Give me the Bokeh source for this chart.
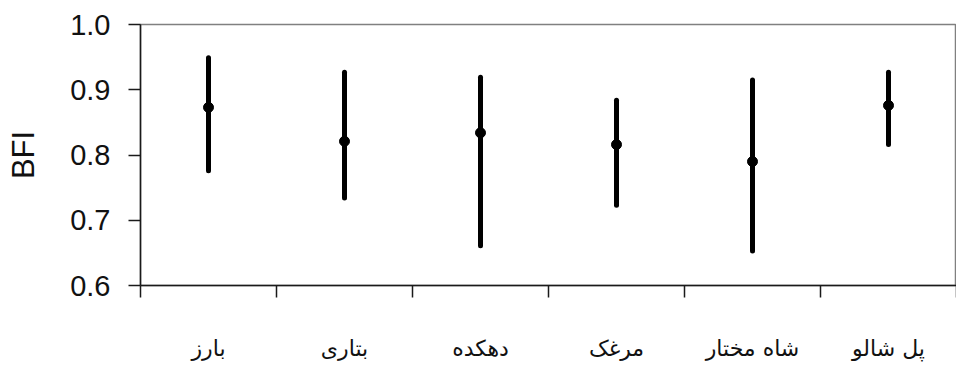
from bokeh.plotting import figure
from bokeh.models import Range1d, FixedTicker, LinearAxis, PrintfTickFormatter
from bokeh.embed import file_html
from bokeh.resources import INLINE

# Data
stations = ["بارز", "بتاری", "دهکده", "مرغک", "شاه مختار", "پل شالو"]
bfi_mean = [0.873, 0.821, 0.834, 0.816, 0.790, 0.876]
bfi_max = [0.949, 0.927, 0.919, 0.884, 0.915, 0.927]
bfi_min = [0.776, 0.734, 0.661, 0.723, 0.653, 0.816]
y_ticks = [0.6, 0.7, 0.8, 0.9, 1.0]
y_label = "BFI"

n = len(stations)
centers = [i + 0.5 for i in range(n)]
bounds = [float(i) for i in range(n + 1)]

p = figure(
    frame_width=816, frame_height=261,
    x_range=Range1d(0, n), y_range=Range1d(y_ticks[0], y_ticks[-1]),
    output_backend="svg", toolbar_location=None, tools="",
    x_axis_type=None, y_axis_type=None,
    min_border_left=140, min_border_top=24, min_border_right=0, min_border_bottom=0,
)
p.background_fill_color = "white"
p.border_fill_color = "white"
p.outline_line_color = "#808080"
p.outline_line_width = 1.5

# y axis
yax = LinearAxis(
    ticker=FixedTicker(ticks=y_ticks),
    formatter=PrintfTickFormatter(format="%.1f"),
    axis_label=y_label,
)
yax.axis_line_color = "#1a1a1a"
yax.axis_line_width = 1.5
yax.major_tick_out = 12
yax.major_tick_in = 0
yax.major_tick_line_color = "#1a1a1a"
yax.major_tick_line_width = 1.5
yax.minor_tick_line_color = None
yax.major_label_text_font = "Liberation Sans"
yax.major_label_text_font_size = "29px"
yax.major_label_text_color = "#111111"
yax.major_label_standoff = 18
yax.axis_label_text_font = "Liberation Sans"
yax.axis_label_text_font_size = "31px"
yax.axis_label_text_font_style = "normal"
yax.axis_label_text_color = "#111111"
yax.axis_label_standoff = 26
p.add_layout(yax, "left")

# x axis: boundary ticks as minor ticks, station names at category centres
xax = LinearAxis(
    ticker=FixedTicker(ticks=centers, minor_ticks=bounds),
    major_label_overrides={c: s for c, s in zip(centers, stations)},
)
xax.axis_line_color = "#1a1a1a"
xax.axis_line_width = 1.5
xax.major_tick_line_color = None
xax.major_tick_out = 0
xax.major_tick_in = 0
xax.minor_tick_line_color = "#1a1a1a"
xax.minor_tick_line_width = 1.5
xax.minor_tick_out = 12
xax.minor_tick_in = 0
xax.major_label_text_font = "DejaVu Sans"
xax.major_label_text_font_size = "22px"
xax.major_label_text_color = "#111111"
xax.major_label_standoff = 38
p.add_layout(xax, "below")

# horizontal grid lines
p.ygrid.ticker = FixedTicker(ticks=y_ticks[1:-1])
p.ygrid.grid_line_color = "#333333"
p.ygrid.grid_line_width = 1.2

# range bars and mean points
p.segment(x0=centers, y0=bfi_min, x1=centers, y1=bfi_max,
          line_width=5, line_color="black", line_cap="round")
p.scatter(x=centers, y=bfi_mean, size=10, fill_color="black", line_color="black")

open("out.html", "w").write(file_html(p, INLINE))
